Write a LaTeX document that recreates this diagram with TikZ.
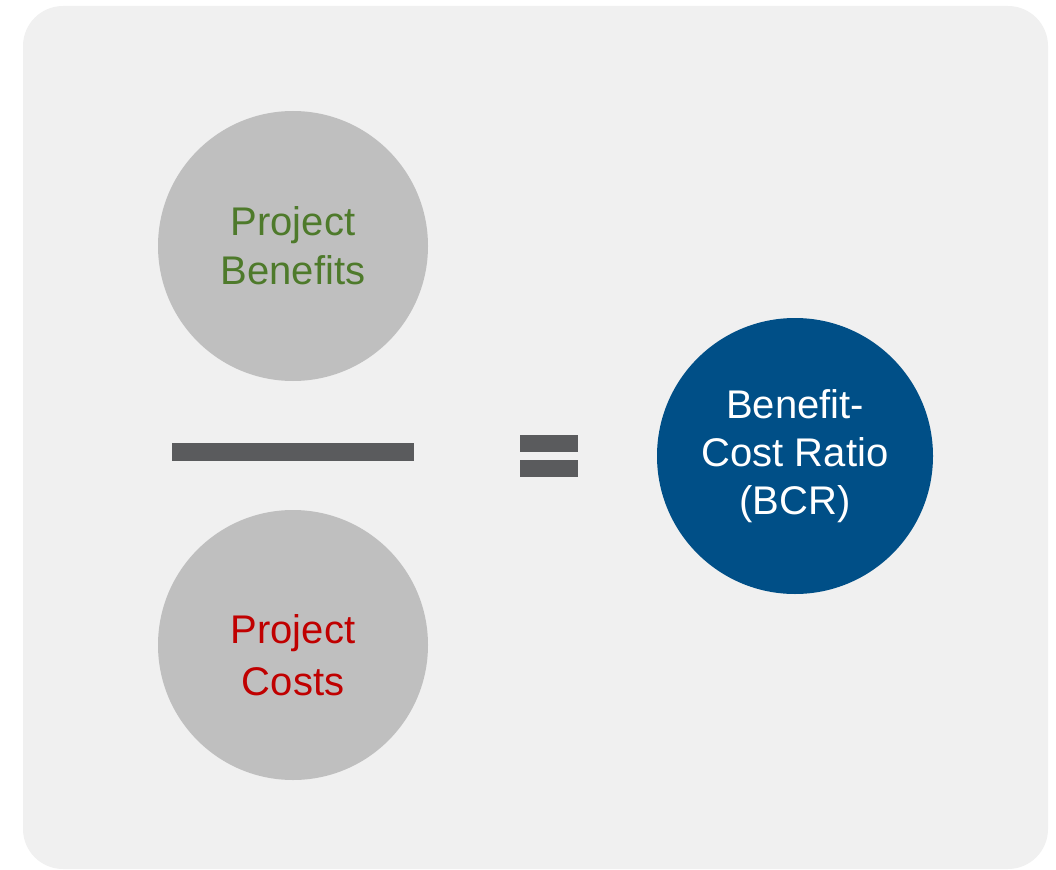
\documentclass[tikz,border=0pt]{standalone}
\usepackage{fontspec}
\setmainfont{Liberation Sans}
\definecolor{bgpanel}{HTML}{F0F0F0}
\definecolor{circgray}{HTML}{BFBFBF}
\definecolor{bengreen}{HTML}{4E7A2B}
\definecolor{costred}{HTML}{C00000}
\definecolor{bcrblue}{HTML}{004F87}
\definecolor{bargray}{HTML}{5A5B5D}
\begin{document}
\begin{tikzpicture}[x=0.75pt,y=-0.75pt,
  bubble/.style={circle,fill=circgray,minimum size=202.5pt,inner sep=0pt,align=center,font=\fontsize{30}{37}\selectfont},
  barshape/.style={fill=bargray}]
\useasboundingbox (0,0) rectangle (1056,870);
\fill[bgpanel,rounded corners=30pt] (23,6) rectangle (1048,869);
\node[bubble,text=bengreen] (ben) at (293,246) {Project\\Benefits};
\node[bubble,label={[text=costred,align=center,inner sep=0pt,yshift=-8pt,font=\fontsize{30}{39}\selectfont]center:Project\\Costs}] (cost) at (293,645) {};
\node[bubble,fill=bcrblue,text=white,minimum size=207pt,font=\fontsize{30}{36}\selectfont] (bcr) at (795,456) {Benefit-\\Cost Ratio\\(BCR)};
\fill[barshape] (172,443) rectangle (414,461);
\fill[barshape] (520,435) rectangle (578,452);
\fill[barshape] (520,460) rectangle (578,477);
\end{tikzpicture}
\end{document}
